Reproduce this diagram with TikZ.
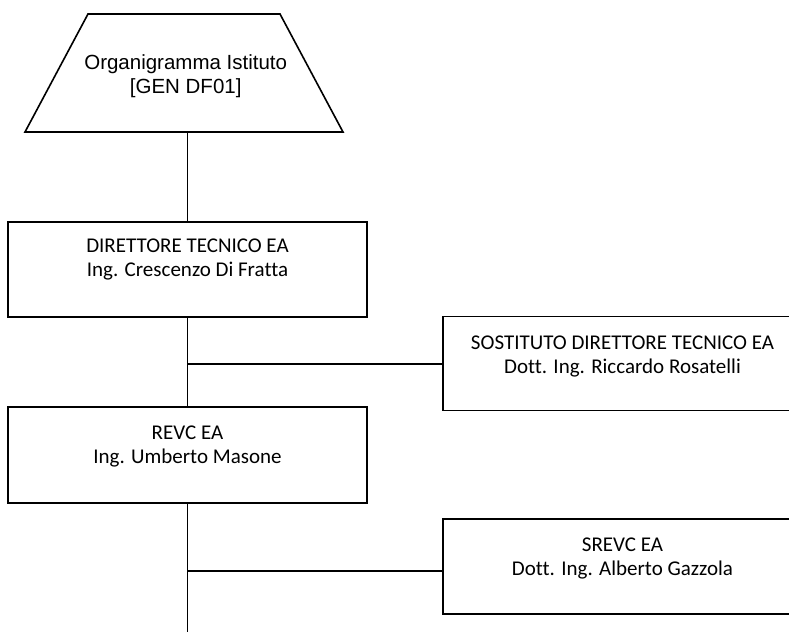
\documentclass[tikz,border=0pt]{standalone}
\usepackage{fontspec}
\setmainfont{Carlito}[Ligatures=NoCommon]
\newfontfamily\arialf{Liberation Sans}
\begin{document}
\begin{tikzpicture}[x=1pt,y=-1pt,
  line width=1.6pt,
  box/.style={draw=black, line width=1.9pt, rectangle, minimum width=359pt, minimum height=95pt, inner sep=0pt},
  boxtext/.style={align=center, inner sep=0pt, anchor=north, font=\fontsize{21}{24.5}\selectfont},
  conn/.style={draw=black, line width=1.6pt},
  titletext/.style={align=center, inner sep=0pt, anchor=north, font=\arialf\fontsize{20.5}{23.3}\selectfont}]
\useasboundingbox (0,0) rectangle (789,632);
\clip (0,0) rectangle (789,632);
% trapezoid
\coordinate (t1) at (88,14);
\coordinate (t2) at (280,14);
\coordinate (t3) at (343,132);
\coordinate (t4) at (25,132);
\draw[line join=miter] (t1) -- (t2) -- (t3) -- (t4) -- cycle;
\node[titletext] (orgt) at (185.7,54.3) {Organigramma Istituto\\{}[GEN DF01]};
\coordinate (orgb) at (187.5,132);
% boxes
\node[box] (dir) at (187.5,269.5) {};
\node[boxtext] (dirt) at (187.5,238) {DIRETTORE TECNICO EA\\Ing. Crescenzo Di Fratta};
\node[box, minimum height=94pt] (sost) at (622.5,363.5) {};
\node[boxtext] (sostt) at (622.5,335) {SOSTITUTO DIRETTORE TECNICO EA\\Dott. Ing. Riccardo Rosatelli};
\node[box, minimum height=96pt] (revc) at (187.5,455) {};
\node[boxtext] (revct) at (187.5,425) {REVC EA\\Ing. Umberto Masone};
\node[box] (srevc) at (622.5,566.5) {};
\node[boxtext] (srevct) at (622.5,537) {SREVC EA\\Dott. Ing. Alberto Gazzola};
% connectors
\draw[conn] (orgb) -- (dir.north);
\draw[conn] (dir.south) -- (revc.north);
\coordinate (j1) at (187.5,364);
\draw[conn] (j1) -- (j1 -| sost.west);
\coordinate (bend) at (187.5,632);
\draw[conn] (revc.south) -- (bend);
\coordinate (j2) at (187.5,571);
\draw[conn] (j2) -- (j2 -| srevc.west);
\end{tikzpicture}
\end{document}
